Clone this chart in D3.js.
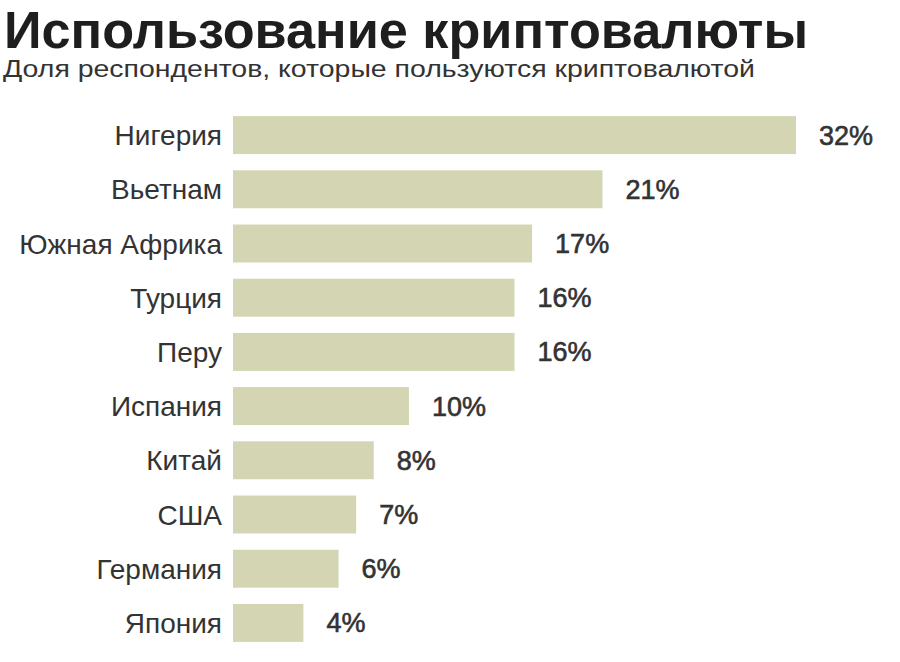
<!DOCTYPE html>
<html><head><meta charset="utf-8">
<script src="https://cdn.jsdelivr.net/npm/d3@7/dist/d3.min.js"></script>
<style>body{margin:0;background:#fff}svg{display:block}</style>
</head><body>
<svg id="c" width="900" height="662"></svg>
<script>
const categories = ["Нигерия","Вьетнам","Южная Африка","Турция","Перу","Испания","Китай","США","Германия","Япония"];
const values = [32,21,17,16,16,10,8,7,6,4];
const valueLabels = ["32%","21%","17%","16%","16%","10%","8%","7%","6%","4%"];
const titleText = "Использование криптовалюты";
const subtitleText = "Доля респондентов, которые пользуются криптовалютой";

const svg = d3.select("#c");
const font = "'Liberation Sans', Arial, sans-serif";

svg.append("text").attr("x",4).attr("y",47.5)
  .attr("font-family",font).attr("font-weight","bold").attr("font-size",52)
  .attr("fill","#1e1e1e").attr("textLength",804).attr("lengthAdjust","spacingAndGlyphs")
  .text(titleText);
svg.append("text").attr("x",3).attr("y",77)
  .attr("font-family",font).attr("font-size",23)
  .attr("fill","#333").attr("textLength",752).attr("lengthAdjust","spacingAndGlyphs")
  .text(subtitleText);

const x = d3.scaleLinear().domain([0,32]).range([233,796]);
const y = d3.scaleBand().domain(categories).range([108,650]).paddingInner(0.3).paddingOuter(0.15);

const g = svg.append("g");
g.selectAll("rect").data(categories).join("rect")
  .attr("x",x(0)).attr("y",d=>y(d))
  .attr("width",(d,i)=>x(values[i])-x(0)).attr("height",y.bandwidth())
  .attr("fill","#d3d5b3");

g.selectAll("text.cat").data(categories).join("text").attr("class","cat")
  .attr("x",222).attr("y",d=>y(d)+y.bandwidth()/2).attr("dy","0.36em")
  .attr("text-anchor","end").attr("font-family",font).attr("font-size",28)
  .attr("fill","#333").text(d=>d);

g.selectAll("text.val").data(categories).join("text").attr("class","val")
  .attr("x",(d,i)=>x(values[i])+23).attr("y",d=>y(d)+y.bandwidth()/2).attr("dy","0.35em")
  .attr("font-family",font).attr("font-size",27)
  .attr("fill","#333").attr("stroke","#333").attr("stroke-width",0.6)
  .text((d,i)=>valueLabels[i]);
</script>
</body></html>
